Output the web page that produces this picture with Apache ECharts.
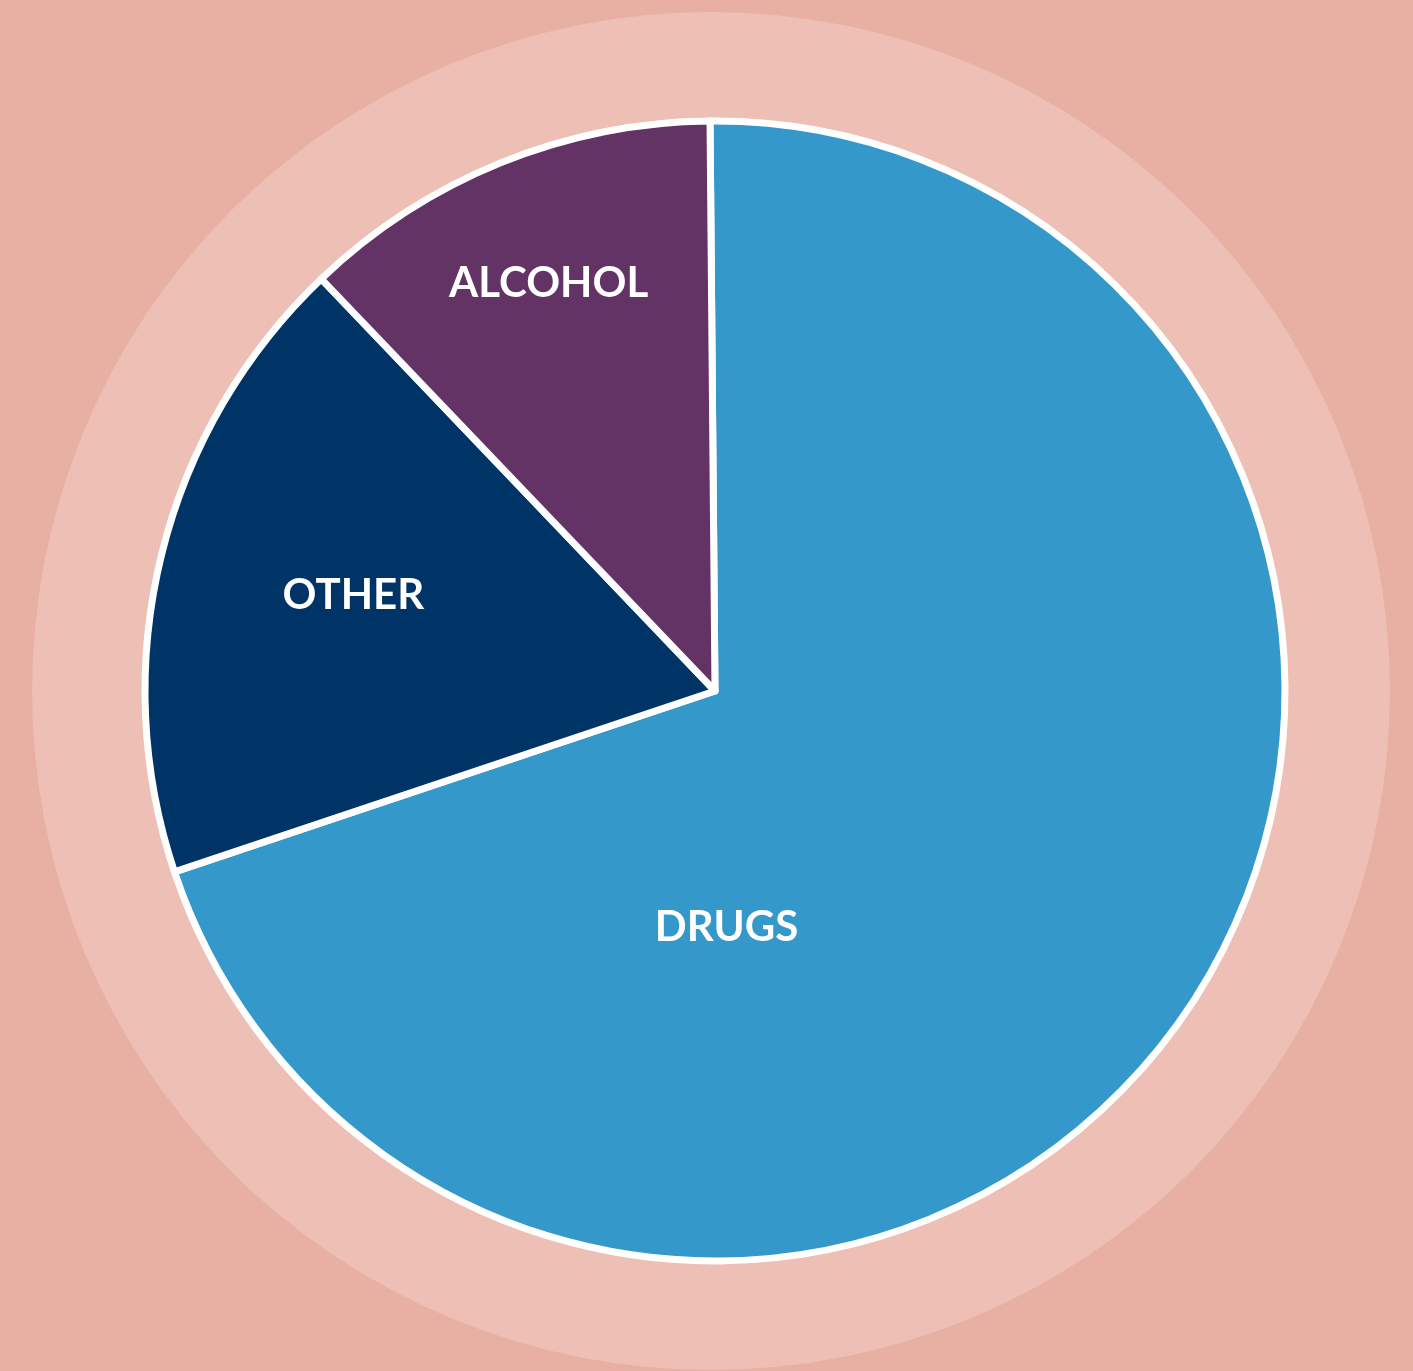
<!DOCTYPE html>
<html>
<head>
<meta charset="utf-8">
<style>
  html, body { margin: 0; padding: 0; background: #E8AFA3; }
  #main { width: 1413px; height: 1371px; }
</style>
<script src="https://cdn.jsdelivr.net/npm/echarts@6/dist/echarts.min.js"></script>
</head>
<body>
<div id="main"></div>
<script>
  var myChart = echarts.init(document.getElementById('main'));

  // data
  let categories = ['DRUGS', 'OTHER', 'ALCOHOL'];
  let values = [70, 18, 12];
  let colors = ['#3598CB', '#003366', '#643366'];

  // label nudges so text sits where the original put it
  let labelShift = {
    DRUGS: [-223, 69],
    OTHER: [-82, -26],
    ALCOHOL: [-58, -141]
  };

  let pieData = categories.map(function (name, i) {
    return {
      name: name,
      value: values[i],
      itemStyle: { color: colors[i] },
      label: { offset: labelShift[name] }
    };
  });

  var option = {
    backgroundColor: '#E8AFA3',
    animation: false,
    series: [
      {
        // pale ring behind the pie
        type: 'pie',
        silent: true,
        center: [711, 691],
        radius: 679,
        label: { show: false },
        labelLine: { show: false },
        itemStyle: { color: '#EDBFB5' },
        data: [{ name: '', value: 1 }]
      },
      {
        type: 'pie',
        center: [715, 691],
        radius: 570,
        startAngle: 90.5,
        clockwise: true,
        itemStyle: {
          borderColor: '#ffffff',
          borderWidth: 7
        },
        label: {
          show: true,
          position: 'inside',
          formatter: '{b}',
          color: '#ffffff',
          fontFamily: 'Lato',
          fontWeight: 'bold',
          fontSize: 42
        },
        labelLine: { show: false },
        data: pieData
      }
    ]
  };

  myChart.setOption(option);
</script>
</body>
</html>
